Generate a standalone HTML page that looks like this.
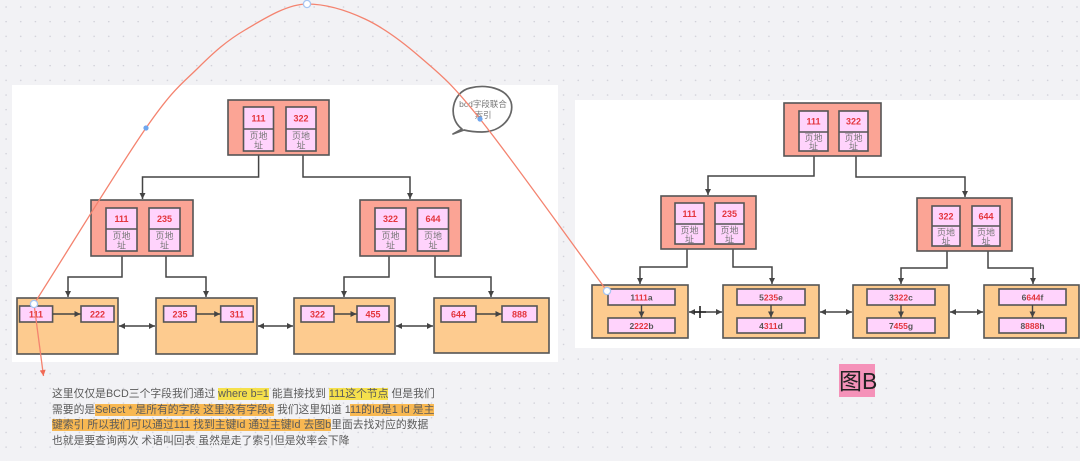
<!DOCTYPE html>
<html><head><meta charset="utf-8">
<style>
html,body{margin:0;padding:0;}
body{width:1080px;height:461px;overflow:hidden;position:relative;background:#f2f2f5;font-family:"Liberation Sans","Noto Sans CJK SC",sans-serif;}
svg{position:absolute;left:0;top:0;}
.note{position:absolute;left:52px;top:387px;font-size:10.8px;line-height:15.7px;color:#5a5a5a;white-space:nowrap;font-family:"Liberation Sans","Noto Sans CJK SC",sans-serif;}
.note div{height:15.7px;}
.y{background:#f5e04c;}
.o{background:#f8b852;}
</style></head>
<body>
<svg width="1080" height="461" viewBox="0 0 1080 461" xmlns="http://www.w3.org/2000/svg" font-family="Liberation Sans, Noto Sans CJK SC, sans-serif">
<defs>
<pattern id="grid" x="0" y="0" width="14.67" height="14.67" patternUnits="userSpaceOnUse">
<circle cx="6.1" cy="7" r="0.75" fill="#cdcdd6"/>
</pattern>
<marker id="ar" viewBox="0 0 10 10" refX="10" refY="5" markerWidth="7" markerHeight="6" markerUnits="userSpaceOnUse" orient="auto-start-reverse">
<path d="M0,0 L10,5 L0,10 z" fill="#444"/>
</marker>
<marker id="rar" viewBox="0 0 10 10" refX="10" refY="5" markerWidth="7" markerHeight="6" markerUnits="userSpaceOnUse" orient="auto">
<path d="M0,0 L10,5 L0,10 z" fill="#f06a55"/>
</marker>
</defs>
<rect width="1080" height="461" fill="#f2f2f5"/>
<rect width="1080" height="461" fill="url(#grid)"/>
<!-- panels -->
<rect x="12" y="85" width="546" height="277" fill="#ffffff"/>
<rect x="575" y="100" width="505" height="248" fill="#ffffff"/>

<g stroke="#444" stroke-width="1.5" fill="none">
<path d="M258.6,155 V177 H142.5 V199" marker-end="url(#ar)"/>
<path d="M303,155 V177 H410 V199" marker-end="url(#ar)"/>
<path d="M122,256 V277 H68 V297" marker-end="url(#ar)"/>
<path d="M166,256 V277 H206 V297" marker-end="url(#ar)"/>
<path d="M389,256 V277 H344 V297" marker-end="url(#ar)"/>
<path d="M435,256 V277 H491 V297" marker-end="url(#ar)"/>
<path d="M814,156 V176 H708 V195" marker-end="url(#ar)"/>
<path d="M856,156 V177 H965 V197" marker-end="url(#ar)"/>
<path d="M687,249 V267 H640 V284" marker-end="url(#ar)"/>
<path d="M733,249 V267 H772 V284" marker-end="url(#ar)"/>
<path d="M947,251 V268 H901 V284" marker-end="url(#ar)"/>
<path d="M988,251 V268 H1033 V284" marker-end="url(#ar)"/>
</g>

<!-- LEFT TREE nodes -->
<g stroke="#555" stroke-width="1.6">
<rect x="228" y="100" width="101" height="55" fill="#fba495"/>
<rect x="91" y="200" width="102" height="56" fill="#fba495"/>
<rect x="360" y="200" width="101" height="56" fill="#fba495"/>
<rect x="243.5" y="107" width="30" height="44" fill="#ffd3fc"/><line x1="243.5" y1="129" x2="273.5" y2="129"/>
<rect x="286" y="107" width="30" height="44" fill="#ffd3fc"/><line x1="286" y1="129" x2="316" y2="129"/>
<rect x="106" y="208" width="31" height="43" fill="#ffd3fc"/><line x1="106" y1="229" x2="137" y2="229"/>
<rect x="149" y="208" width="31" height="43" fill="#ffd3fc"/><line x1="149" y1="229" x2="180" y2="229"/>
<rect x="375" y="208" width="31" height="43" fill="#ffd3fc"/><line x1="375" y1="229" x2="406" y2="229"/>
<rect x="417.5" y="208" width="31" height="43" fill="#ffd3fc"/><line x1="417.5" y1="229" x2="448.5" y2="229"/>
<rect x="17" y="298" width="101" height="56" fill="#fdcb8f"/>
<rect x="156" y="298" width="101" height="56" fill="#fdcb8f"/>
<rect x="294" y="298" width="101" height="56" fill="#fdcb8f"/>
<rect x="434" y="298" width="115" height="55" fill="#fdcb8f"/>
<rect x="19.6" y="306" width="33" height="16" fill="#ffd3fc"/>
<rect x="81" y="306" width="33" height="16" fill="#ffd3fc"/>
<rect x="163.6" y="306" width="32.5" height="16" fill="#ffd3fc"/>
<rect x="220.7" y="306" width="32.5" height="16" fill="#ffd3fc"/>
<rect x="301" y="306" width="33" height="16" fill="#ffd3fc"/>
<rect x="357" y="306" width="32" height="16" fill="#ffd3fc"/>
<rect x="441" y="306" width="35" height="16" fill="#ffd3fc"/>
<rect x="502" y="306" width="35" height="16" fill="#ffd3fc"/>
</g>
<g stroke="#444" stroke-width="1.4" fill="none">
<path d="M52.6,314 H80.5" marker-end="url(#ar)"/>
<path d="M196.1,314 H220.2" marker-end="url(#ar)"/>
<path d="M334,314 H356.5" marker-end="url(#ar)"/>
<path d="M476,314 H501.5" marker-end="url(#ar)"/>
<path d="M119,326 H155" marker-start="url(#ar)" marker-end="url(#ar)"/>
<path d="M258,326 H293" marker-start="url(#ar)" marker-end="url(#ar)"/>
<path d="M396,326 H433" marker-start="url(#ar)" marker-end="url(#ar)"/>
</g>
<g font-size="9" font-weight="bold" fill="#e3343c" text-anchor="middle">
<text x="258.5" y="121.5">111</text><text x="301" y="121.5">322</text>
<text x="121.5" y="222">111</text><text x="164.5" y="222">235</text>
<text x="390.5" y="222">322</text><text x="433" y="222">644</text>
<text x="36" y="317.5">111</text><text x="97.5" y="317.5">222</text>
<text x="180" y="317.5">235</text><text x="237" y="317.5">311</text>
<text x="317.5" y="317.5">322</text><text x="373" y="317.5">455</text>
<text x="458.5" y="317.5">644</text><text x="519.5" y="317.5">888</text>
</g>
<g font-size="9" fill="#777" text-anchor="middle">
<text x="258.5" y="139">页地</text><text x="258.5" y="148.5">址</text>
<text x="301" y="139">页地</text><text x="301" y="148.5">址</text>
<text x="121.5" y="239">页地</text><text x="121.5" y="248.5">址</text>
<text x="164.5" y="239">页地</text><text x="164.5" y="248.5">址</text>
<text x="390.5" y="239">页地</text><text x="390.5" y="248.5">址</text>
<text x="433" y="239">页地</text><text x="433" y="248.5">址</text>
</g>

<!-- RIGHT TREE nodes -->
<g stroke="#555" stroke-width="1.6">
<rect x="784" y="103" width="97" height="53" fill="#fba495"/>
<rect x="661" y="196" width="95" height="53" fill="#fba495"/>
<rect x="917" y="198" width="95" height="53" fill="#fba495"/>
<rect x="799" y="111" width="29" height="40" fill="#ffd3fc"/><line x1="799" y1="132" x2="828" y2="132"/>
<rect x="839" y="111" width="29" height="40" fill="#ffd3fc"/><line x1="839" y1="132" x2="868" y2="132"/>
<rect x="675" y="203" width="29" height="41" fill="#ffd3fc"/><line x1="675" y1="224" x2="704" y2="224"/>
<rect x="715" y="203" width="29" height="41" fill="#ffd3fc"/><line x1="715" y1="224" x2="744" y2="224"/>
<rect x="932" y="206" width="28" height="40" fill="#ffd3fc"/><line x1="932" y1="226" x2="960" y2="226"/>
<rect x="972" y="206" width="28" height="40" fill="#ffd3fc"/><line x1="972" y1="226" x2="1000" y2="226"/>
<rect x="592" y="285" width="96" height="53" fill="#fdcb8f"/>
<rect x="723" y="285" width="96" height="53" fill="#fdcb8f"/>
<rect x="853" y="285" width="96" height="53" fill="#fdcb8f"/>
<rect x="984" y="285" width="95" height="53" fill="#fdcb8f"/>
<rect x="608" y="289" width="67" height="16" fill="#ffd3fc"/>
<rect x="608" y="318" width="67" height="15" fill="#ffd3fc"/>
<rect x="737" y="289" width="68" height="16" fill="#ffd3fc"/>
<rect x="737" y="318" width="68" height="15" fill="#ffd3fc"/>
<rect x="867" y="289" width="68" height="16" fill="#ffd3fc"/>
<rect x="867" y="318" width="68" height="15" fill="#ffd3fc"/>
<rect x="999" y="289" width="67" height="16" fill="#ffd3fc"/>
<rect x="999" y="318" width="67" height="15" fill="#ffd3fc"/>
</g>
<g stroke="#444" stroke-width="1.4" fill="none">
<path d="M641.5,305 V317.5" marker-end="url(#ar)"/>
<path d="M771,305 V317.5" marker-end="url(#ar)"/>
<path d="M901,305 V317.5" marker-end="url(#ar)"/>
<path d="M1032.5,305 V317.5" marker-end="url(#ar)"/>
<path d="M689,312 H722" marker-start="url(#ar)" marker-end="url(#ar)"/>
<path d="M820,312 H852" marker-start="url(#ar)" marker-end="url(#ar)"/>
<path d="M950,312 H983" marker-start="url(#ar)" marker-end="url(#ar)"/>
<path d="M700,306 V318 M694,312 H706" stroke="#222" stroke-width="1.6"/>
</g>
<g font-size="9" font-weight="bold" fill="#e3343c" text-anchor="middle">
<text x="813.5" y="124.5">111</text><text x="853.5" y="124.5">322</text>
<text x="689.5" y="217">111</text><text x="729.5" y="217">235</text>
<text x="946" y="219.5">322</text><text x="986" y="219.5">644</text>
</g>
<g font-size="9" fill="#777" text-anchor="middle">
<text x="813.5" y="141">页地</text><text x="813.5" y="149.5">址</text>
<text x="853.5" y="141">页地</text><text x="853.5" y="149.5">址</text>
<text x="689.5" y="233.5">页地</text><text x="689.5" y="242.5">址</text>
<text x="729.5" y="233.5">页地</text><text x="729.5" y="242.5">址</text>
<text x="946" y="235.5">页地</text><text x="946" y="244.5">址</text>
<text x="986" y="235.5">页地</text><text x="986" y="244.5">址</text>
</g>
<g font-size="8.5" font-weight="bold" fill="#555" text-anchor="middle">
<text x="641.5" y="300.5">1<tspan fill="#e3343c">111</tspan>a</text>
<text x="641.5" y="329">2<tspan fill="#e3343c">222</tspan>b</text>
<text x="771" y="300.5">5<tspan fill="#e3343c">235</tspan>e</text>
<text x="771" y="329">4<tspan fill="#e3343c">311</tspan>d</text>
<text x="901" y="300.5">3<tspan fill="#e3343c">322</tspan>c</text>
<text x="901" y="329">7<tspan fill="#e3343c">455</tspan>g</text>
<text x="1032.5" y="300.5">6<tspan fill="#e3343c">644</tspan>f</text>
<text x="1032.5" y="329">8<tspan fill="#e3343c">888</tspan>h</text>
</g>

<!-- speech bubble -->
<path d="M462,129 C447,118 452,92 470,88 C486,84 506,88 511,102 C515,116 502,132 482,132 C474,132 468,131 464,130 L453,134 Z" fill="#fff" stroke="#666" stroke-width="1.7" stroke-linejoin="round"/>
<text x="483" y="107" font-size="8.5" fill="#777" text-anchor="middle">bcd字段联合</text>
<text x="483" y="118" font-size="8.5" fill="#777" text-anchor="middle">索引</text>

<!-- 图B label -->
<rect x="839" y="364" width="36" height="33" fill="#f592b9"/>
<text x="839" y="389" font-size="23" fill="#222" font-family="Liberation Sans, Noto Sans CJK SC, sans-serif">图B</text>

<!-- red curve -->
<path d="M34,304 C71.3,245.3 118.7,167.3 146,128 C173.3,88.7 181.5,84.3 198,68 C214.5,51.7 226.8,40.7 245,30 C263.2,19.3 287,4 307,4 C327,4 346.2,10.2 365,19 C383.8,27.8 400.8,40.3 420,57 C439.2,73.7 448.8,80 480,119 C511.2,158 564.7,233.7 607,291" fill="none" stroke="#f4836f" stroke-width="1.3"/>
<path d="M34,304 L43.5,376" fill="none" stroke="#f4836f" stroke-width="1.3" marker-end="url(#rar)"/>
<circle cx="146" cy="128" r="2.6" fill="#6fa6ee"/>
<circle cx="480" cy="119" r="2.6" fill="#6fa6ee"/>
<circle cx="307" cy="4" r="3.6" fill="#fff" stroke="#a7c6f2" stroke-width="1.3"/>
<circle cx="34" cy="304" r="3.6" fill="#fff" stroke="#a7c6f2" stroke-width="1.3"/>
<circle cx="607" cy="291" r="3.6" fill="#fff" stroke="#a7c6f2" stroke-width="1.3"/>
</svg>

<div class="note">
<div>这里仅仅是BCD三个字段我们通过 <span class="y">where b=1</span> 能直接找到 <span class="y">111这个节点</span> 但是我们</div>
<div>需要的是<span class="o">Select * 是所有的字段 这里没有字段e</span> 我们这里知道 1<span class="o">11的Id是1 Id 是主</span></div>
<div><span class="o">键索引 所以我们可以通过111 找到主键Id 通过主键Id 去图b</span>里面去找对应的数据</div>
<div>也就是要查询两次 术语叫回表 虽然是走了索引但是效率会下降</div>
</div>
</body></html>
